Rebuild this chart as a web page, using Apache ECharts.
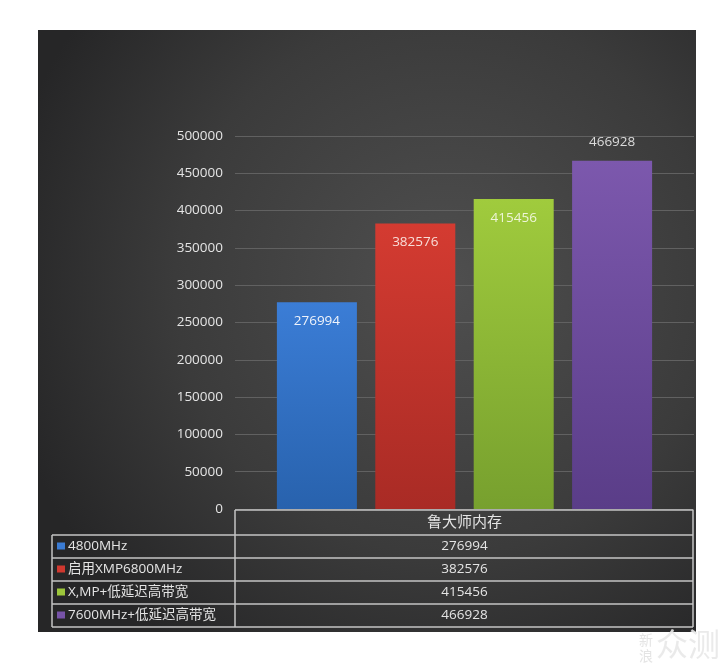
<!DOCTYPE html>
<html>
<head>
<meta charset="utf-8">
<script src="https://cdn.jsdelivr.net/npm/echarts@6/dist/echarts.min.js"></script>
<style>
  html, body { margin: 0; padding: 0; background: #ffffff; }
  #chart { width: 720px; height: 669px; }
</style>
</head>
<body>
<div id="chart"></div>
<script>
// ---- data ----
const categories = ['鲁大师内存'];
const seriesNames = ['4800MHz', '启用XMP6800MHz', 'X,MP+低延迟高带宽', '7600MHz+低延迟高带宽'];
const values = [276994, 382576, 415456, 466928];
const yMin = 0;
const yMax = 500000;
const yInterval = 50000;

// ---- styles ----
const topColors = ['#3b7dd6', '#d43b31', '#a0cb3d', '#7c58ad'];
const bottomColors = ['#2862ad', '#a92b25', '#77a02e', '#5a3d88'];
const keyColors = ['#3a7bd3', '#d0382f', '#9cc63b', '#7753a8'];
const labelColors = ['#eef3fb', '#f8ddd8', '#eef5d8', '#dcdcdc'];
const labelPos = ['insideTop', 'insideTop', 'insideTop', 'top'];
const FONT = "'Open Sans', 'Noto Sans CJK SC', sans-serif";
const TXT = '#e4e4e4';

const G = { left: 235, right: 26, top: 136, bottom: 160 };
const W = 720, H = 669;
const gridRight = W - G.right;
const gridBottom = H - G.bottom;

const series = seriesNames.map((name, i) => ({
  name: name,
  type: 'bar',
  barWidth: 80,
  barGap: '23%',
  data: [values[i]],
  itemStyle: {
    color: new echarts.graphic.LinearGradient(0, 0, 0, 1, [
      { offset: 0, color: topColors[i] },
      { offset: 1, color: bottomColors[i] }
    ])
  },
  label: {
    show: true,
    position: labelPos[i],
    distance: 12,
    color: labelColors[i],
    fontFamily: FONT,
    fontSize: 13.5
  }
}));

// ---- data table (built from arrays) ----
const rowYs = [gridBottom + 26, gridBottom + 49, gridBottom + 72, gridBottom + 95, gridBottom + 118];
const tableLeft = 52;
const lineColor = '#c4c4c4';
const graphics = [];
// background panel
graphics.push({
  type: 'rect', z: -100, silent: true,
  x: 38, y: 30,
  shape: { x: 0, y: 0, width: 658, height: 602 },
  style: {
    fill: new echarts.graphic.RadialGradient(0.62, 0.42, 0.75, [
      { offset: 0, color: '#4f4f4f' },
      { offset: 0.6, color: '#3b3b3b' },
      { offset: 1, color: '#262627' }
    ])
  }
});
function hline(x1, x2, y) {
  graphics.push({ type: 'line', z: 10, silent: true, shape: { x1: x1, y1: y, x2: x2, y2: y }, style: { stroke: lineColor, lineWidth: 1.5 } });
}
function vline(x, y1, y2) {
  graphics.push({ type: 'line', z: 10, silent: true, shape: { x1: x, y1: y1, x2: x, y2: y2 }, style: { stroke: lineColor, lineWidth: 1.5 } });
}
const gb = gridBottom + 1;
hline(G.left, gridRight - 1, gb);
rowYs.forEach(y => hline(tableLeft, gridRight - 1, y));
vline(tableLeft, rowYs[0], rowYs[rowYs.length - 1]);
vline(G.left, gb, rowYs[rowYs.length - 1]);
vline(gridRight - 1, gb, rowYs[rowYs.length - 1]);
const midX = (G.left + gridRight) / 2;
graphics.push({
  type: 'text', z: 11, silent: true,
  style: { text: categories[0], x: midX, y: (gb + rowYs[0]) / 2, align: 'center', verticalAlign: 'middle', fill: TXT, font: '15px ' + FONT }
});
seriesNames.forEach((name, i) => {
  const cy = (rowYs[i] + rowYs[i + 1]) / 2;
  graphics.push({ type: 'rect', z: 11, silent: true, shape: { x: 57, y: cy - 4, width: 8, height: 7 }, style: { fill: keyColors[i] } });
  graphics.push({
    type: 'text', z: 11, silent: true,
    style: { text: name, x: 68, y: cy, align: 'left', verticalAlign: 'middle', fill: TXT, font: '13.5px ' + FONT }
  });
  graphics.push({
    type: 'text', z: 11, silent: true,
    style: { text: String(values[i]), x: midX, y: cy, align: 'center', verticalAlign: 'middle', fill: TXT, font: '13.5px ' + FONT }
  });
});
// watermark
graphics.push({ type: 'text', z: 12, silent: true, style: { text: '新', x: 646, y: 640, align: 'center', verticalAlign: 'middle', fill: 'rgba(225,225,225,0.9)', font: '14px "Noto Sans CJK SC"' } });
graphics.push({ type: 'text', z: 12, silent: true, style: { text: '浪', x: 646, y: 656, align: 'center', verticalAlign: 'middle', fill: 'rgba(225,225,225,0.9)', font: '14px "Noto Sans CJK SC"' } });
graphics.push({ type: 'text', z: 12, silent: true, style: { text: '众测', x: 688, y: 644, align: 'center', verticalAlign: 'middle', fill: 'rgba(232,232,232,0.9)', font: '32px "Noto Sans CJK SC"' } });

const chart = echarts.init(document.getElementById('chart'), null, { renderer: 'canvas' });
chart.setOption({
  backgroundColor: '#ffffff',
  animation: false,
  grid: { left: G.left, right: G.right, top: G.top, bottom: G.bottom, containLabel: false },
  xAxis: {
    type: 'category',
    data: categories,
    axisLine: { show: false },
    axisTick: { show: false },
    axisLabel: { show: false },
    splitLine: { show: false }
  },
  yAxis: {
    type: 'value',
    min: yMin,
    max: yMax,
    interval: yInterval,
    axisLine: { show: false },
    axisTick: { show: false },
    axisLabel: { color: TXT, fontFamily: FONT, fontSize: 13.5, margin: 12, formatter: v => String(v) },
    splitLine: { lineStyle: { color: '#616161', width: 1.2 } }
  },
  graphic: graphics,
  series: series
});
</script>
</body>
</html>
